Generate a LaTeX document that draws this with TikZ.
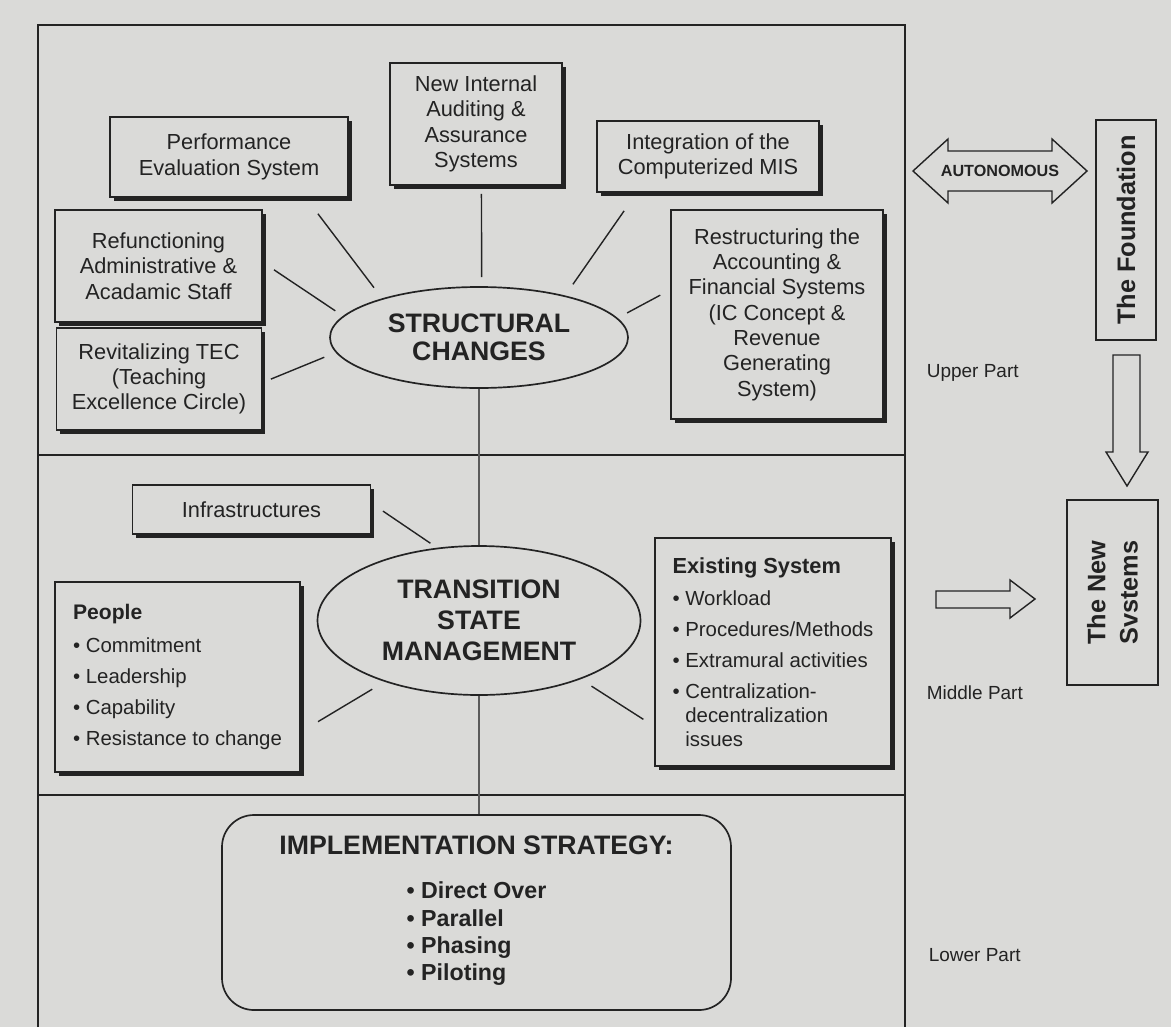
\documentclass[tikz,border=0pt]{standalone}
\usepackage{fontspec}
\setmainfont{Liberation Sans}
\usetikzlibrary{shapes.geometric,shadows}
\definecolor{paper}{RGB}{218,218,216}
\definecolor{ink}{RGB}{35,35,35}

\begin{document}
\begin{tikzpicture}[x=0.25mm,y=-0.25mm,color=ink,line width=1.2pt,
    sbox/.style={draw,fill=paper,align=center,inner sep=2pt,
      font=\fontsize{15.5}{18}\selectfont,
      drop shadow={shadow xshift=0.9mm,shadow yshift=-0.9mm,fill=ink,opacity=1}},
    listbox/.style={sbox,align=left,font=\fontsize{14.5}{22}\selectfont},
    bubble/.style={draw,ellipse,fill=paper,inner sep=0pt,align=center},
    sidebox/.style={draw,fill=paper,rotate=90,align=center,
      font=\fontsize{18}{23}\selectfont\bfseries},
    spoke/.style={line width=1pt},
    trunk/.style={line width=1.6pt,ink!75},
    blockarrow/.style={draw,fill=paper,line width=1pt,line join=miter},
    partlabel/.style={anchor=west,inner sep=0pt,font=\fontsize{13.5}{16}\selectfont}]

     \fill[paper] (0,0) rectangle (1171,1027);
     \useasboundingbox (0,0) rectangle (1171,1027);

     \draw (38,1027) -- (38,25) -- (905,25) -- (905,1027);
     \draw (38,455) -- (905,455);
     \draw (38,795) -- (905,795);

     \node[bubble,minimum width=74.5mm,minimum height=25.25mm,
       font=\fontsize{19}{20}\selectfont\bfseries] (sc) at (479,337.5) {STRUCTURAL\\CHANGES};
     \node[sbox,minimum width=59.5mm,minimum height=20mm] (perf) at (229,157) {Performance\\Evaluation System};
     \node[sbox,minimum width=43mm,minimum height=30.5mm] (audit) at (476,124) {New Internal\\Auditing \&\\Assurance\\Systems};
     \node[sbox,minimum width=55.5mm,minimum height=17.75mm] (mis) at (708,156.5) {Integration of the\\Computerized MIS};
     \node[sbox,minimum width=51.75mm,minimum height=28mm] (refun) at (158.5,266) {Refunctioning\\Administrative \&\\Acadamic Staff};
     \node[sbox,minimum width=51.25mm,minimum height=25.5mm] (tec) at (159,379) {Revitalizing TEC\\(Teaching\\Excellence Circle)};
     \node[sbox,minimum width=53mm,minimum height=52.25mm] (restr) at (777,314.5) {Restructuring the\\Accounting \&\\Financial Systems\\(IC Concept \&\\Revenue\\Generating\\System)};

     \node[bubble,minimum width=80.75mm,minimum height=37.25mm,
       font=\fontsize{19}{22}\selectfont\bfseries] (tsm) at (479,620.5) {TRANSITION\\STATE\\MANAGEMENT};
     \node[sbox,minimum width=59.5mm,minimum height=12.25mm] (infra) at (251.5,509.5) {Infrastructures};
     \node[listbox,minimum width=61.25mm,minimum height=47.5mm] (people) at (177.5,677)
       {{\bfseries\fontsize{15}{22}\selectfont People}\\[1pt]
        \textbullet\ Commitment\\
        \textbullet\ Leadership\\
        \textbullet\ Capability\\
        \textbullet\ Resistance to change};
     \node[listbox,minimum width=59mm,minimum height=57mm] (exist) at (773,652)
       {{\bfseries\fontsize{15.5}{22}\selectfont Existing System}\\[1pt]
        \textbullet\ Workload\\
        \textbullet\ Procedures/Methods\\
        \textbullet\ Extramural activities\\
        \textbullet\ Centralization-\\[-5pt]
        \phantom{\textbullet\ }decentralization\\[-5pt]
        \phantom{\textbullet\ }issues};

     \node[draw,fill=paper,rounded corners=8mm,minimum width=127.25mm,minimum height=48.75mm,
       align=center,font=\fontsize{16.5}{19.5}\selectfont\bfseries] (impl) at (476.5,912.5)
       {{\fontsize{19}{21}\selectfont IMPLEMENTATION STRATEGY:}\\[12pt]
        \begin{tabular}[t]{@{}l@{}}
        \textbullet\ Direct Over\\
        \textbullet\ Parallel\\
        \textbullet\ Phasing\\
        \textbullet\ Piloting
        \end{tabular}};

     \draw[trunk] (sc.south) -- (tsm.north);
     \draw[trunk] (tsm.south) -- (tsm.south |- impl.north);

     \draw[spoke,shorten <=5mm,shorten >=3.35mm] (perf.-28) -- (sc.158);
     \draw[spoke,shorten <=2mm,shorten >=2.25mm] (audit.-85) -- (sc.87);
     \draw[spoke,shorten <=5.5mm,shorten >=3.4mm] (mis.207) -- (sc.26);
     \draw[spoke,shorten <=3.35mm,shorten >=2.3mm] (refun.2) -- (sc.171);
     \draw[spoke,shorten <=2.3mm,shorten >=3.1mm] (tec.-2) -- (sc.186);
     \draw[spoke,shorten <=2.8mm,shorten >=2.7mm] (restr.167) -- (sc.8);
     \draw[spoke,shorten <=3.5mm,shorten >=2mm] (infra.3) -- (tsm.120);
     \draw[spoke,shorten <=5mm,shorten >=3.6mm] (people.-24) -- (tsm.213);
     \draw[spoke,shorten <=3.2mm,shorten >=3.2mm] (exist.212) -- (tsm.-30);

     \node[sidebox,minimum width=55mm,minimum height=15mm] (found) at (1126,230) {The Foundation};
     \node[sidebox,minimum width=46.25mm,minimum height=22.75mm] (newsys) at (1112.5,592.5) {The New\\Svstems};

     \draw[blockarrow] (913,171) -- (948,139) -- (948,151) -- (1052,151) -- (1052,139) -- (1087,171)
       -- (1052,203) -- (1052,191) -- (948,191) -- (948,203) -- cycle;
     \node[font=\fontsize{11.5}{13}\selectfont\bfseries] (auto) at (1000,171) {AUTONOMOUS};
     \draw[blockarrow] (1113,355) -- (1140,355) -- (1140,452) -- (1148,452) -- (1127,486)
       -- (1106,452) -- (1113,452) -- cycle;
     \draw[blockarrow] (936,591) -- (1010,591) -- (1010,580) -- (1035,599) -- (1010,618)
       -- (1010,608) -- (936,608) -- cycle;

     \node[partlabel] (upper) at (926,373) {Upper Part};
     \node[partlabel] (middle) at (926,693) {Middle Part};
     \node[partlabel] (lower) at (928,955) {Lower Part};

  \end{tikzpicture}
\end{document}
